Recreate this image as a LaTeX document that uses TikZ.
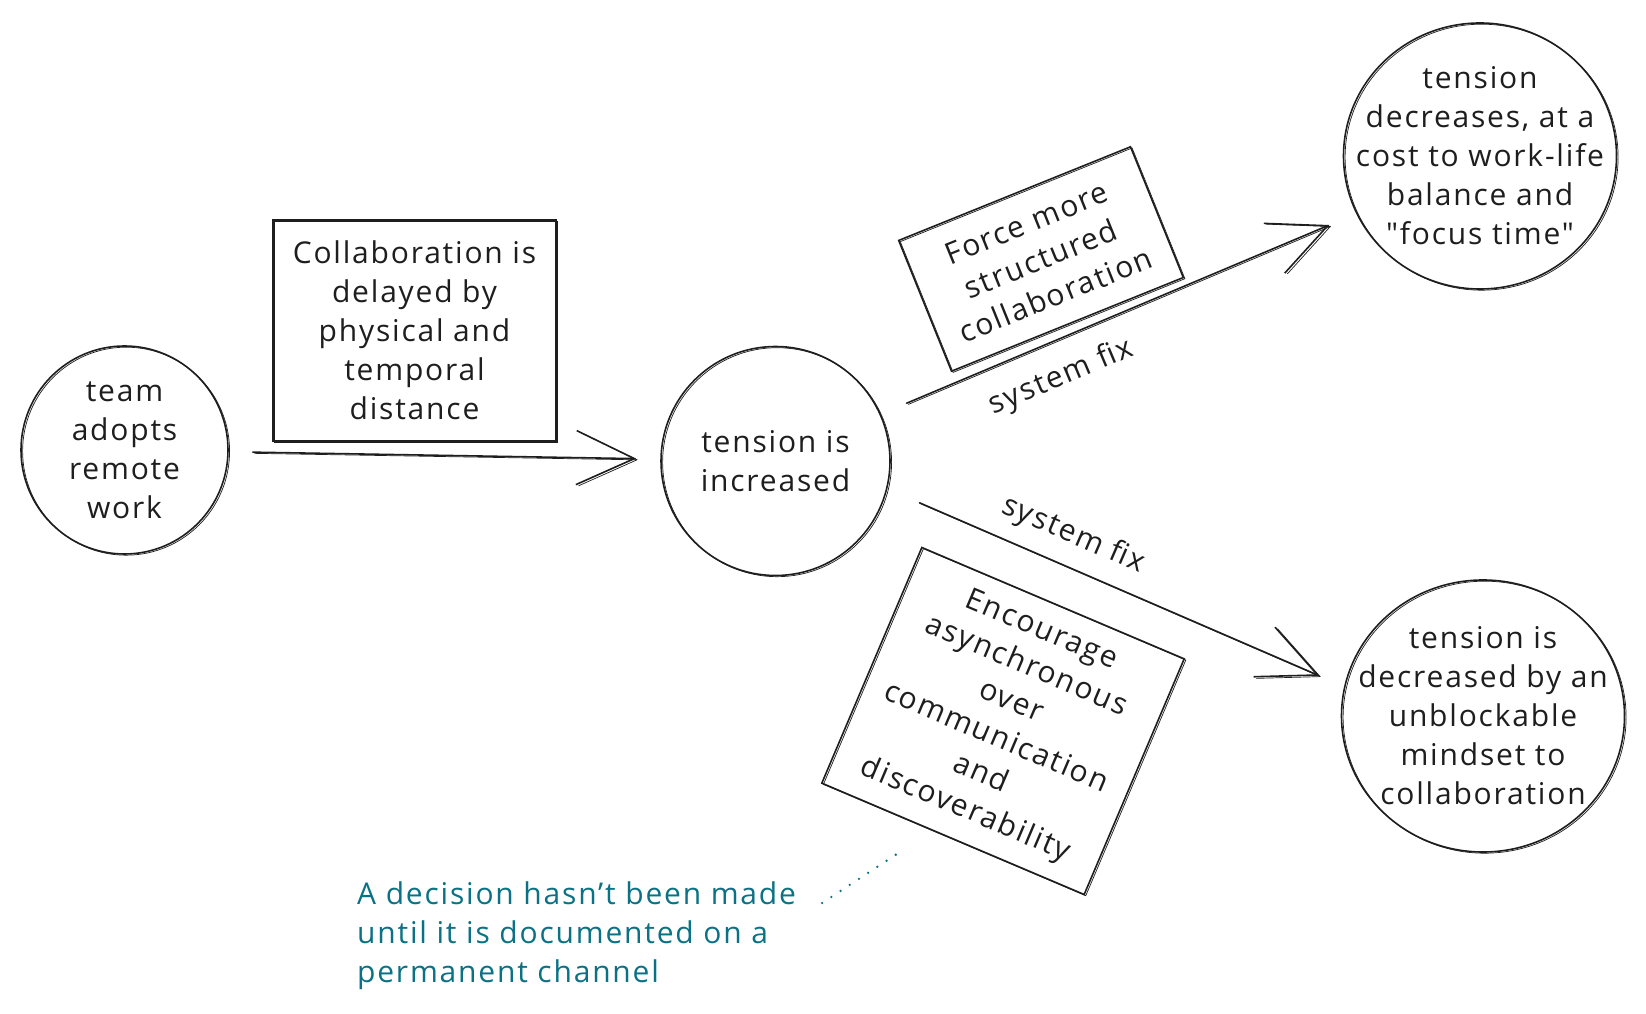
\documentclass[tikz,border=0pt]{standalone}
\usepackage{fontspec}
\setmainfont{Open Sans}[Ligatures=TeXOff, LetterSpace=6]
\usetikzlibrary{positioning,arrows.meta,calc,shapes.geometric}

\definecolor{ink}{HTML}{1E1E1E}
\definecolor{noteteal}{HTML}{0B7285}

\tikzset{
  sketch/.style={draw=ink, line width=1.6pt,
    preaction={draw=ink, line width=0.7pt, transform canvas={shift={(1.6pt,-1.2pt)}}}},
  hand/.style={font={\fontsize{30}{39}\selectfont}, text=ink, align=center},
  bubble/.style={sketch, hand, ellipse, inner sep=-40pt},
  card/.style={sketch, hand, rectangle, inner sep=0pt},
  flow/.style={sketch, line cap=round, line join=round,
    -{Straight Barb[length=58pt,width=54pt]}},
  fixlabel/.style={sloped, hand},
  hint/.style={noteteal, line width=2.6pt, line cap=round, dash pattern=on 0pt off 11pt}
}

\begin{document}
\begin{tikzpicture}[x=1pt,y=1pt]
  \useasboundingbox (0,0) rectangle (1646,1013);

  % states
  \node[bubble, minimum width=207, minimum height=208] (A) at (124.5,563) {team\\adopts\\remote\\work};
  \node[bubble, minimum width=229, minimum height=229] (B) at (775.5,552) {tension is\\increased};
  \node[bubble, minimum width=273, minimum height=266] (C) at (1480,857)
    {tension\\decreases, at a\\cost to work-life\\balance and\\"focus time"};
  \node[bubble, minimum width=283, minimum height=272] (D) at (1483,297)
    {tension is\\decreased by an\\unblockable\\mindset to\\collaboration};

  % causes and fixes
  \node[card, minimum width=283, minimum height=221] (delay) at (414.5,682.5)
    {Collaboration is\\delayed by\\physical and\\temporal\\distance};
  \node[card, minimum width=250, minimum height=141, rotate=22] (force) at (1041,754)
    {Force more\\structured\\collaboration};
  \node[card, minimum width=285, minimum height=256, rotate=-23] (async) at (1003,292)
    {Encourage\\asynchronous\\over\\communication\\and\\discoverability};

  % arrows
  \draw[flow, shorten <=24pt, shorten >=24pt] (A) -- (B);
  \draw[flow, shorten <=28pt, shorten >=29pt] (B.24) -- (C.205)
    node[fixlabel, below=17pt, pos=0.35] (fixup) {system fix};
  \draw[flow, shorten <=35pt, shorten >=27pt] (B.-14) -- (D.168)
    node[fixlabel, above=12pt, pos=0.38] (fixdown) {system fix};

  % note
  \node[hand, text=noteteal, align=left, inner sep=0pt, anchor=north west] (N) at (357,131)
    {A decision hasn’t been made\\until it is documented on a\\permanent channel};
  \coordinate (hinttip) at (903,163);
  \draw[hint] ([shift={(26pt,-21pt)}]N.north east) -- (hinttip);
\end{tikzpicture}
\end{document}
